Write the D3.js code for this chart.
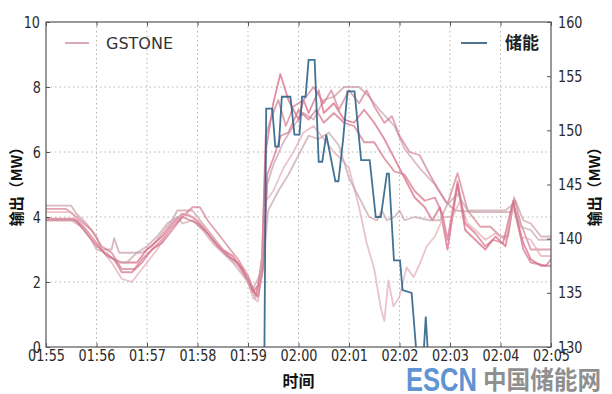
<!DOCTYPE html>
<html>
<head>
<meta charset="utf-8">
<script src="https://cdn.jsdelivr.net/npm/d3@7/dist/d3.min.js"></script>
<style>
  body { margin: 0; background: #fff; }
  svg { display: block; font-family: "DejaVu Sans", sans-serif; }
  .tick text { transform-box: fill-box; transform-origin: center; transform: scaleX(0.8); fill: #2a2a2a; }
</style>
</head>
<body>
<div id="chart"></div>
<script>
// x ticks: minutes after 01:55
const tickMinutes = [0, 1, 2, 3, 4, 5, 6, 7, 8, 9, 10];
const timeLabels = ["01:55", "01:56", "01:57", "01:58", "01:59", "02:00", "02:01", "02:02", "02:03", "02:04", "02:05"];
const leftTicks = [0, 2, 4, 6, 8, 10];
const rightTicks = [130, 135, 140, 145, 150, 155, 160];

// GSTONE 输出 (left axis, MW) -- [minute, value]
const gstone1 = [[0,4.35],[0.5,4.35],[0.6,4.1],[0.8,3.8],[1.0,3.4],[1.1,3.0],[1.3,3.0],[1.35,3.35],[1.45,2.9],[1.9,2.9],[2.1,3.1],[2.3,3.5],[2.5,3.9],[2.6,4.2],[2.9,4.2],[3.1,3.8],[3.3,3.4],[3.5,3.0],[3.7,2.7],[3.9,2.4],[4.05,1.8],[4.15,1.5],[4.25,2.2],[4.3,2.5],[4.38,5.0],[4.5,5.6],[4.7,6.3],[4.9,6.8],[5.1,7.2],[5.3,7.0],[5.5,7.6],[5.7,7.7],[5.9,8.0],[6.2,8.0],[6.4,7.7],[6.6,7.3],[6.9,6.8],[7.1,6.1],[7.4,5.5],[7.7,5.0],[7.9,4.5],[8.1,4.2],[8.5,4.15],[9.2,4.15],[9.3,4.5],[9.45,3.9],[9.6,3.8],[9.8,3.4],[10,3.4]];
const gstone2 = [[0,3.9],[0.6,3.9],[0.8,3.6],[1.0,3.2],[1.2,2.8],[1.5,2.6],[1.8,2.6],[2.0,3.0],[2.3,3.4],[2.5,3.8],[2.7,4.1],[2.9,4.0],[3.1,3.7],[3.3,3.3],[3.5,3.0],[3.7,2.8],[3.9,2.3],[4.1,1.7],[4.2,1.9],[4.28,2.8],[4.35,6.0],[4.5,7.5],[4.64,8.4],[4.8,7.6],[5.0,7.0],[5.1,7.6],[5.2,7.2],[5.4,7.9],[5.5,7.2],[5.7,7.5],[5.9,7.0],[6.1,6.9],[6.3,7.3],[6.5,6.9],[6.7,6.4],[6.9,5.8],[7.1,5.2],[7.3,4.6],[7.5,4.3],[7.65,3.9],[7.8,4.3],[7.95,3.0],[8.15,5.0],[8.3,3.6],[8.5,3.3],[8.7,3.0],[8.9,3.4],[9.1,3.1],[9.25,4.4],[9.45,3.2],[9.6,2.7],[9.8,2.5],[10,2.5]];
const gstone3 = [[0,4.25],[0.4,4.25],[0.6,4.0],[0.9,3.6],[1.1,3.1],[1.3,2.9],[1.5,2.4],[1.75,2.4],[1.9,2.7],[2.1,3.0],[2.3,3.3],[2.5,3.7],[2.7,4.0],[2.9,4.3],[3.05,4.3],[3.2,3.9],[3.4,3.5],[3.6,3.1],[3.8,2.7],[4.0,2.2],[4.15,1.6],[4.27,2.3],[4.35,6.5],[4.45,7.0],[4.6,7.6],[4.75,6.8],[4.9,7.4],[5.1,7.6],[5.3,8.0],[5.5,7.5],[5.65,7.9],[5.8,7.3],[6.0,7.9],[6.2,7.5],[6.35,7.9],[6.5,7.4],[6.7,6.9],[6.85,7.1],[7.0,6.5],[7.2,6.0],[7.4,5.9],[7.6,5.3],[7.75,4.9],[7.95,4.4],[8.15,5.35],[8.35,4.2],[8.6,3.7],[8.8,3.7],[9.0,3.4],[9.15,3.4],[9.27,4.6],[9.4,3.8],[9.6,3.0],[9.85,3.0],[10,3.0]];
const gstone4 = [[0,4.15],[0.5,4.15],[0.7,3.8],[0.9,3.4],[1.1,3.0],[1.3,2.6],[1.5,2.1],[1.7,2.0],[1.85,2.3],[2.0,2.6],[2.2,3.0],[2.4,3.5],[2.6,3.9],[2.8,4.1],[3.0,3.9],[3.2,3.6],[3.4,3.2],[3.6,2.8],[3.8,2.5],[4.0,2.0],[4.1,1.5],[4.2,1.4],[4.28,2.6],[4.36,4.5],[4.5,4.8],[4.7,5.5],[4.9,6.0],[5.1,6.6],[5.3,6.8],[5.5,6.4],[5.7,6.0],[5.9,5.7],[6.0,5.5],[6.2,4.3],[6.35,3.2],[6.5,2.4],[6.63,1.2],[6.7,0.8],[6.78,2.05],[6.88,1.25],[7.0,1.55],[7.14,2.45],[7.28,2.15],[7.4,2.55],[7.54,3.1],[7.7,3.4],[7.87,4.0],[8.05,4.0],[8.2,4.5],[8.35,3.8],[8.5,3.6],[8.7,3.3],[8.9,3.5],[9.1,3.3],[9.25,4.3],[9.4,3.4],[9.6,3.3],[9.8,2.8],[10,2.8]];
const gstone5 = [[0,3.9],[0.5,3.9],[0.7,3.7],[0.9,3.3],[1.0,3.0],[1.2,2.9],[1.4,2.6],[1.6,2.6],[1.8,2.9],[2.0,3.1],[2.2,3.4],[2.4,3.8],[2.6,4.0],[2.7,3.8],[2.9,3.9],[3.1,3.6],[3.3,3.2],[3.5,2.9],[3.7,2.6],[3.9,2.2],[4.1,1.8],[4.2,2.1],[4.3,2.6],[4.4,4.2],[4.6,4.8],[4.8,5.3],[5.0,5.9],[5.2,6.5],[5.4,6.4],[5.6,6.6],[5.8,6.2],[6.0,5.2],[6.2,4.6],[6.4,4.0],[6.55,3.9],[6.65,4.2],[6.75,3.9],[6.9,4.0],[7.0,4.2],[7.1,3.9],[7.3,4.0],[7.6,3.9],[7.8,3.9],[7.95,4.4],[8.15,4.7],[8.35,4.2],[8.6,4.2],[8.9,4.2],[9.1,4.2],[9.25,4.4],[9.4,3.7],[9.6,3.6],[9.75,3.3],[10,3.3]];
const gstone6 = [[0,3.95],[0.55,3.95],[0.75,3.6],[0.95,3.2],[1.15,2.9],[1.35,2.7],[1.5,2.3],[1.7,2.3],[1.9,2.6],[2.1,3.0],[2.3,3.2],[2.5,3.6],[2.7,4.0],[2.85,3.9],[3.0,3.8],[3.2,3.5],[3.4,3.1],[3.6,2.8],[3.8,2.6],[4.0,2.1],[4.1,1.75],[4.2,1.55],[4.3,2.4],[4.38,5.3],[4.5,5.8],[4.65,6.5],[4.8,6.6],[5.0,7.3],[5.2,7.0],[5.35,7.3],[5.5,6.9],[5.7,7.2],[5.9,6.9],[6.1,6.8],[6.3,6.3],[6.5,6.3],[6.7,5.8],[6.9,5.4],[7.1,5.3],[7.3,4.8],[7.5,4.5],[7.7,4.6],[7.85,4.1],[7.95,3.3],[8.15,5.1],[8.3,3.8],[8.5,3.5],[8.7,3.1],[8.85,3.3],[9.05,3.2],[9.25,4.5],[9.45,3.0],[9.6,2.6],[9.9,2.5],[10,2.7]];
const gstoneColors = ["#c99aa6", "#d9607e", "#d47a90", "#e2a9b8", "#c4a2ab", "#d26e88"];

// 储能 输出 (right axis, MW); below 130 is off the chart
const storage = [[0,120],[4.31,120],[4.36,152],[4.48,152],[4.54,148.5],[4.61,148.5],[4.67,153.1],[4.84,153.1],[4.92,149.6],[5.02,149.6],[5.07,153.1],[5.14,153.1],[5.2,156.5],[5.32,156.5],[5.4,147.1],[5.47,147.1],[5.55,149.6],[5.73,145.3],[5.79,145.3],[5.88,149.0],[5.97,153.6],[6.11,153.6],[6.24,147.25],[6.41,147.25],[6.53,142],[6.63,142],[6.75,146],[6.79,146],[6.89,138],[7.01,138],[7.06,135.25],[7.24,135],[7.36,128],[7.46,128],[7.52,132.8],[7.58,128],[10,128]];

const W = 612, H = 394;
const m = { left: 46, right: 61, top: 22, bottom: 47 };

const svg = d3.select("#chart").append("svg")
    .attr("width", W)
    .attr("height", H);

const x = d3.scaleLinear().domain([0, 10]).range([m.left, W - m.right]);
const yL = d3.scaleLinear().domain([0, 10]).range([H - m.bottom, m.top]);
const yR = d3.scaleLinear().domain([130, 160]).range([H - m.bottom, m.top]);

svg.append("clipPath").attr("id", "plot-clip")
  .append("rect")
    .attr("x", m.left).attr("y", m.top)
    .attr("width", W - m.left - m.right)
    .attr("height", H - m.top - m.bottom);

// dotted grid
const grid = svg.append("g").attr("stroke", "#b5b5b5").attr("stroke-dasharray", "1.5,3").attr("stroke-width", 1);
grid.selectAll(".gx").data(tickMinutes.slice(1, -1)).enter().append("line")
    .attr("x1", d => x(d)).attr("x2", d => x(d))
    .attr("y1", m.top).attr("y2", H - m.bottom);
grid.selectAll(".gy").data(leftTicks.slice(1, -1)).enter().append("line")
    .attr("x1", m.left).attr("x2", W - m.right)
    .attr("y1", d => yL(d)).attr("y2", d => yL(d));

// lines
const lineL = d3.line().x(d => x(d[0])).y(d => yL(d[1]));
const lineR = d3.line().x(d => x(d[0])).y(d => yR(d[1]));
const plot = svg.append("g").attr("clip-path", "url(#plot-clip)");

[gstone1, gstone2, gstone3, gstone4, gstone5, gstone6].forEach((s, i) => {
  plot.append("path")
      .attr("d", lineL(s))
      .attr("fill", "none")
      .attr("stroke", gstoneColors[i])
      .attr("stroke-opacity", 0.7)
      .attr("stroke-width", 1.8)
      .attr("stroke-linejoin", "round");
});

plot.append("path")
    .attr("d", lineR(storage))
    .attr("fill", "none")
    .attr("stroke", "#2f6488")
    .attr("stroke-opacity", 0.9)
    .attr("stroke-width", 1.8);

// axes (ticks point inward)
const styleAxis = g => {
  g.select(".domain").remove();
  g.selectAll(".tick line").attr("stroke", "#555");
  g.selectAll(".tick text").attr("font-size", 16).attr("font-family", "DejaVu Sans, sans-serif");
};

svg.append("g").attr("transform", `translate(${m.left},0)`)
    .call(d3.axisLeft(yL).tickValues(leftTicks).tickSize(-4).tickPadding(4))
    .call(styleAxis);
svg.append("g").attr("transform", `translate(${W - m.right},0)`)
    .call(d3.axisRight(yR).tickValues(rightTicks).tickSize(-4).tickPadding(4))
    .call(styleAxis);
svg.append("g").attr("transform", `translate(0,${H - m.bottom})`)
    .call(d3.axisBottom(x).tickValues(tickMinutes).tickFormat(d => timeLabels[d]).tickSize(-4).tickPadding(3))
    .call(styleAxis);
svg.append("g").attr("transform", `translate(0,${m.top})`)
    .call(d3.axisTop(x).tickValues(tickMinutes).tickFormat("").tickSize(-4))
    .call(styleAxis);

// frame
svg.append("rect")
    .attr("x", m.left).attr("y", m.top)
    .attr("width", W - m.left - m.right)
    .attr("height", H - m.top - m.bottom)
    .attr("fill", "none")
    .attr("stroke", "#555")
    .attr("stroke-width", 1.2);

// axis titles
const cjk = "'Noto Sans CJK SC', sans-serif";
svg.append("text")
    .attr("x", x(5)).attr("y", 387)
    .attr("text-anchor", "middle")
    .style("font-family", cjk).style("font-size", "16px").style("font-weight", "bold")
    .attr("fill", "#111")
    .text("时间");
[17, 595].forEach(px => {
  svg.append("text")
      .attr("transform", `translate(${px},${183}) rotate(-90)`)
      .attr("text-anchor", "middle")
      .attr("dy", "0.35em")
      .style("font-family", cjk).style("font-size", "15px").style("font-weight", "bold")
      .attr("fill", "#111")
      .text("输出（MW）");
});

// legends
const leg = svg.append("g");
leg.append("line").attr("x1", 65).attr("x2", 89).attr("y1", 43).attr("y2", 43)
    .attr("stroke", "#dcaab6").attr("stroke-width", 2);
leg.append("text").attr("x", 106).attr("y", 43).attr("dy", "0.35em")
    .style("font-size", "16px").attr("fill", "#333").text("GSTONE");
leg.append("line").attr("x1", 461).attr("x2", 487).attr("y1", 43).attr("y2", 43)
    .attr("stroke", "#4d7391").attr("stroke-width", 2);
leg.append("text").attr("x", 505).attr("y", 43).attr("dy", "0.35em")
    .style("font-family", cjk).style("font-size", "17px").style("font-weight", "bold")
    .attr("fill", "#222").text("储能");

// watermark
svg.append("text")
    .attr("x", 406).attr("y", 391)
    .attr("textLength", 71).attr("lengthAdjust", "spacingAndGlyphs")
    .style("font-family", "'Liberation Sans', Arial, sans-serif")
    .style("font-size", "33px").style("font-weight", "bold")
    .attr("fill", "#5f93d2")
    .text("ESCN");
svg.append("text")
    .attr("x", 483).attr("y", 389)
    .attr("textLength", 118).attr("lengthAdjust", "spacingAndGlyphs")
    .style("font-family", cjk)
    .style("font-size", "25px").style("font-weight", "bold")
    .attr("fill", "#8f8f8f")
    .text("中国储能网");
</script>
</body>
</html>
